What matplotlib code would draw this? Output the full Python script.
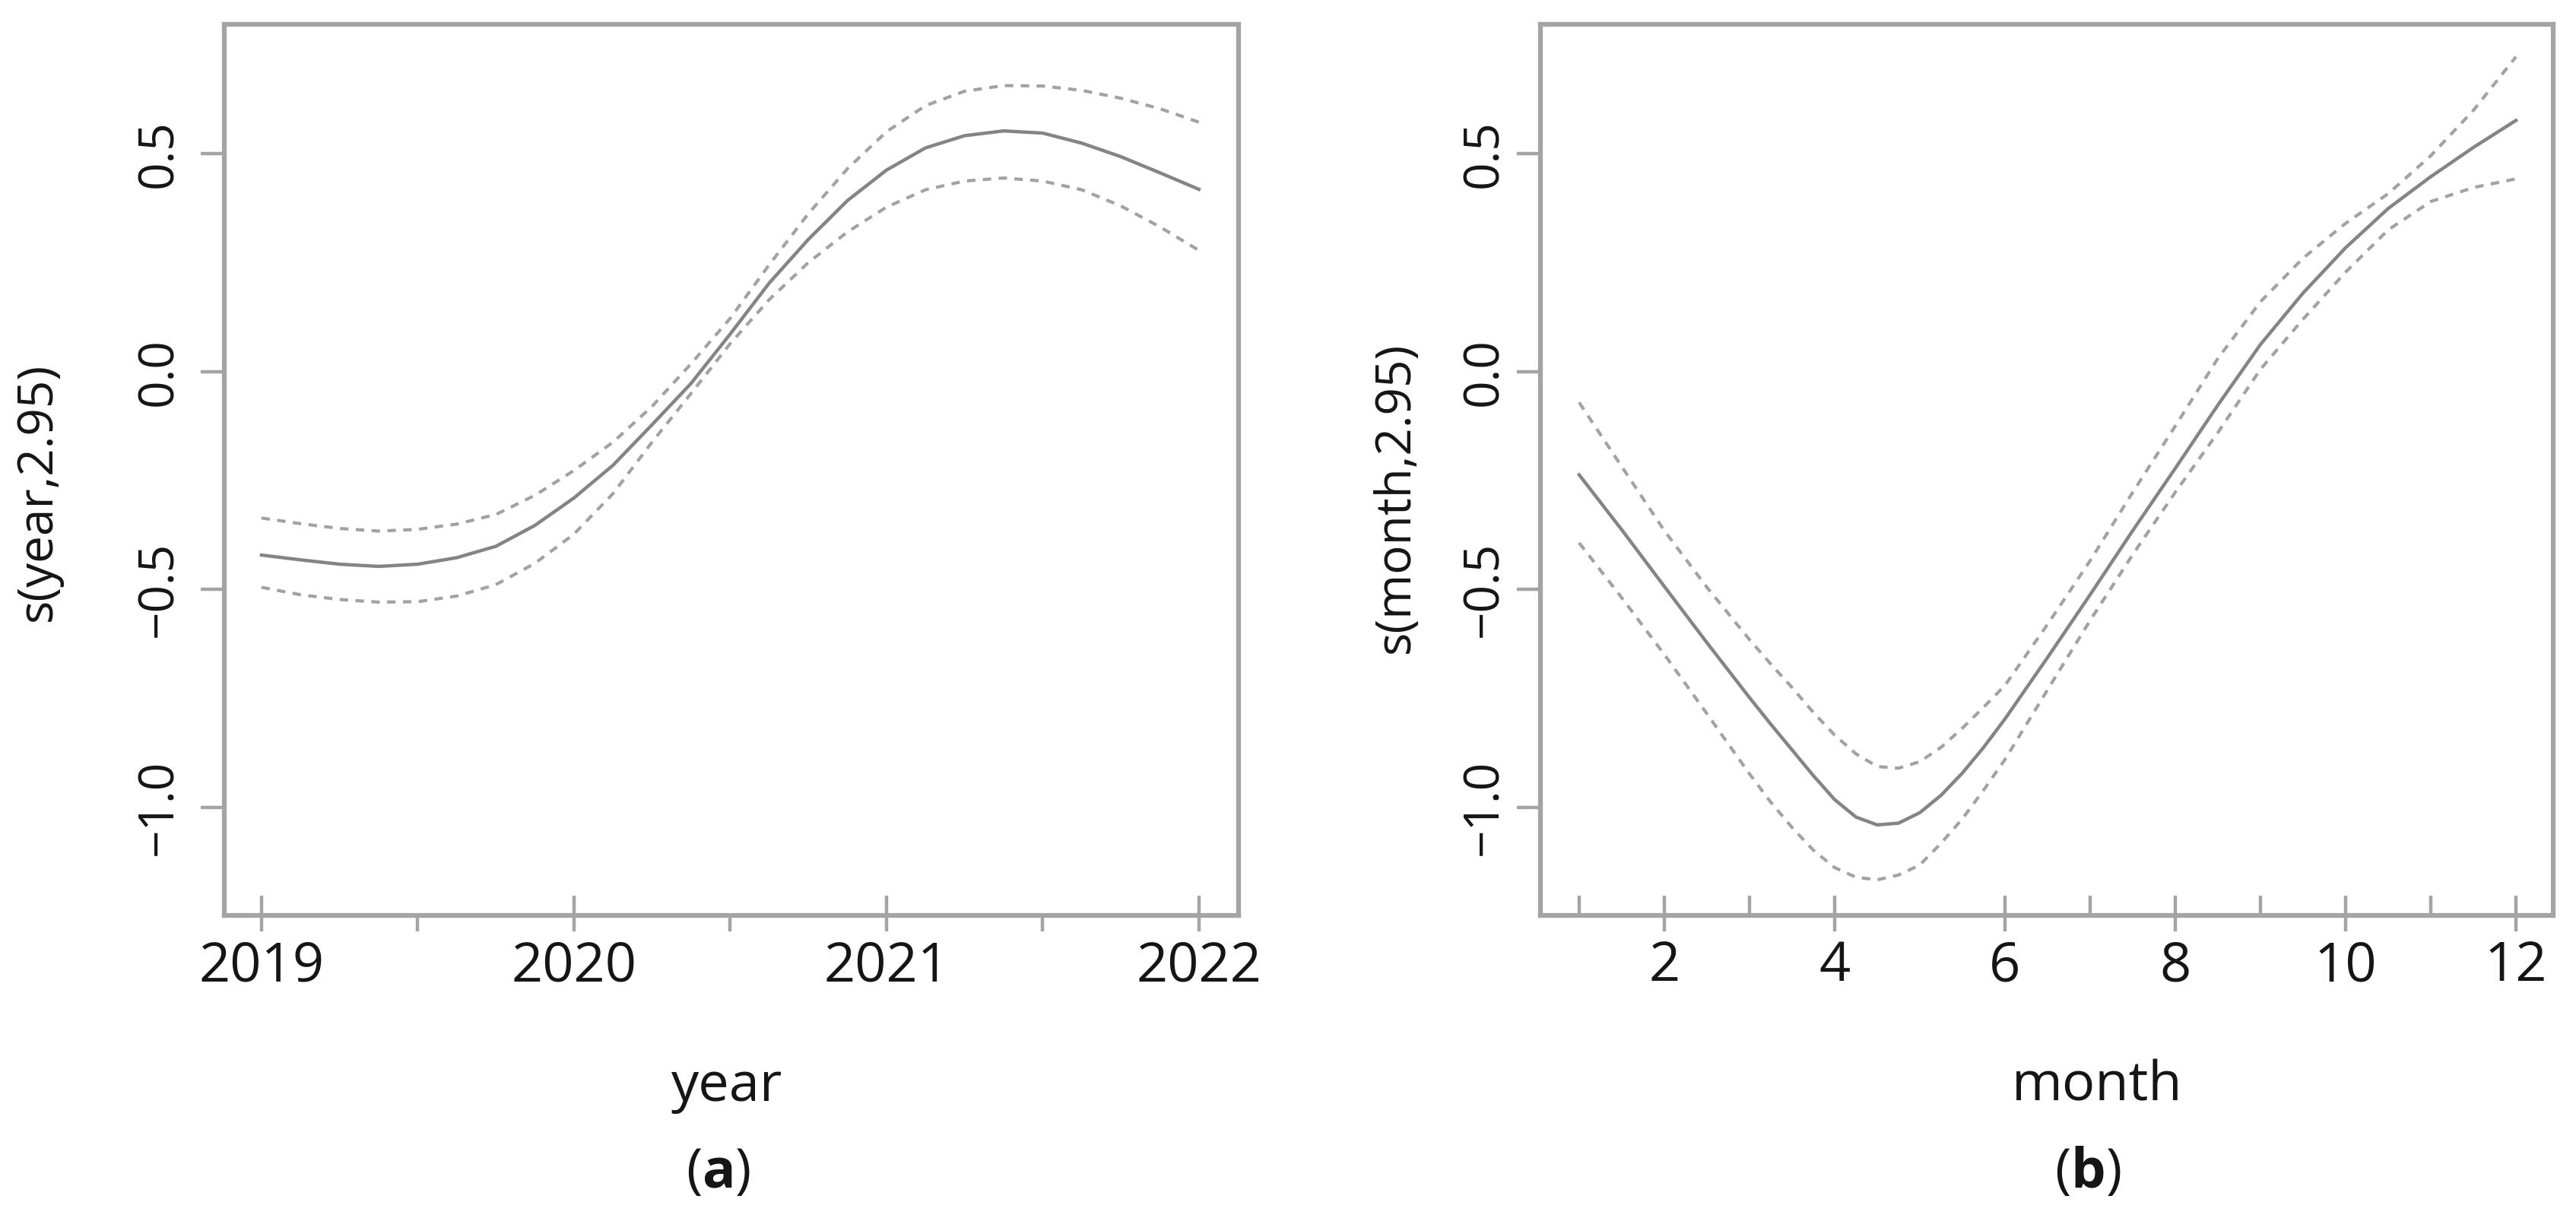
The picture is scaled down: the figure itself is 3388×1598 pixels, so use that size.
import matplotlib
matplotlib.use('Agg')
import matplotlib.pyplot as plt

plt.rcParams['font.family'] = ['Open Sans', 'DejaVu Sans']
plt.rcParams['mathtext.fontset'] = 'custom'
plt.rcParams['mathtext.rm'] = 'Open Sans'
plt.rcParams['mathtext.bf'] = 'Open Sans:bold'
plt.rcParams['lines.scale_dashes'] = False

# panel (a): smooth of year with +-2 se bands
year_x = [2019.0, 2019.125, 2019.25, 2019.375, 2019.5, 2019.625, 2019.75, 2019.875,
          2020.0, 2020.125, 2020.25, 2020.375, 2020.5, 2020.625, 2020.75, 2020.875,
          2021.0, 2021.125, 2021.25, 2021.375, 2021.5, 2021.625, 2021.75, 2021.875,
          2022.0]
year_fit = [-0.421, -0.432, -0.442, -0.447, -0.442, -0.427, -0.401, -0.353,
            -0.290, -0.215, -0.122, -0.027, 0.086, 0.203, 0.303, 0.392,
            0.462, 0.513, 0.541, 0.552, 0.547, 0.524, 0.493, 0.456,
            0.418]
year_upper = [-0.336, -0.349, -0.360, -0.366, -0.362, -0.350, -0.328, -0.284,
              -0.227, -0.162, -0.080, 0.018, 0.122, 0.245, 0.362, 0.465,
              0.550, 0.610, 0.643, 0.656, 0.655, 0.645, 0.627, 0.603,
              0.572]
year_lower = [-0.495, -0.512, -0.523, -0.529, -0.528, -0.515, -0.489, -0.440,
              -0.373, -0.280, -0.162, -0.050, 0.064, 0.165, 0.250, 0.320,
              0.377, 0.417, 0.437, 0.444, 0.437, 0.417, 0.380, 0.332,
              0.278]
year_rug = [2019, 2020, 2021, 2022]
year_ticks = [2019, 2019.5, 2020, 2020.5, 2021, 2021.5, 2022]
year_ticklabels = ['2019', '', '2020', '', '2021', '', '2022']

# panel (b): smooth of month
month_x = [1, 1.5, 2, 2.5, 3, 3.25, 3.5, 3.75, 4, 4.25, 4.5, 4.75, 5, 5.25,
           5.5, 5.75, 6, 6.5, 7, 7.5, 8, 8.5, 9, 9.5, 10, 10.5, 11, 11.5, 12]
month_fit = [-0.237, -0.363, -0.493, -0.622, -0.748, -0.809, -0.868, -0.927,
             -0.982, -1.022, -1.040, -1.036, -1.012, -0.972, -0.921, -0.862,
             -0.797, -0.656, -0.512, -0.365, -0.222, -0.077, 0.062, 0.180,
             0.284, 0.374, 0.447, 0.514, 0.576]
month_upper = [-0.071, -0.218, -0.365, -0.495, -0.615, -0.671, -0.725, -0.782,
               -0.834, -0.877, -0.906, -0.910, -0.895, -0.862, -0.818, -0.770,
               -0.720, -0.580, -0.434, -0.277, -0.125, 0.030, 0.160, 0.260,
               0.340, 0.408, 0.495, 0.599, 0.722]
month_lower = [-0.393, -0.519, -0.649, -0.785, -0.923, -0.988, -1.046, -1.098,
               -1.138, -1.160, -1.166, -1.155, -1.132, -1.082, -1.026, -0.960,
               -0.890, -0.730, -0.571, -0.420, -0.277, -0.140, 0.005, 0.120,
               0.228, 0.325, 0.390, 0.422, 0.442]
month_rug = [1, 2, 3, 4, 6, 7, 8, 9, 10, 11, 12]
month_ticks = [2, 4, 6, 8, 10, 12]
month_ticklabels = ['2', '4', '6', '8', '10', '12']

y_ticks = [-1.0, -0.5, 0.0, 0.5]
y_ticklabels = ['\u22121.0', '\u22120.5', '0.0', '0.5']

BOX = '#a4a4a4'
FIT = '#848484'
BAND = '#a2a2a2'
TXT = '#151515'

fig = plt.figure(figsize=(33.88, 15.98), dpi=100)
ax1 = fig.add_axes([0.08707, 0.24656, 0.39374, 0.73342])
ax2 = fig.add_axes([0.59799, 0.24656, 0.39315, 0.73342])


def draw_panel(ax, x, fit, upper, lower, rug, xticks, xticklabels, xlim, ypad):
    ax.plot(x, fit, color=FIT, lw=3.2, solid_joinstyle='round')
    ax.plot(x, upper, color=BAND, lw=3.0, ls=(0, (8, 7)))
    ax.plot(x, lower, color=BAND, lw=3.0, ls=(0, (8, 7)))
    # rug of observed values along the bottom
    ax.vlines(rug, 0, 26 / 1172, transform=ax.get_xaxis_transform(),
              color=BOX, lw=3.2)
    ax.set_xlim(*xlim)
    ax.set_ylim(-1.2477, 0.7965)
    for s in ax.spines.values():
        s.set_color(BOX)
        s.set_linewidth(4.5)
    ax.set_xticks(xticks)
    ax.set_xticklabels(xticklabels)
    ax.set_yticks(y_ticks)
    ax.set_yticklabels(y_ticklabels, rotation=90, ha='center', va='center')
    ax.tick_params(axis='both', direction='out', color=BOX, width=3.2,
                   labelcolor=TXT)
    ax.tick_params(axis='x', length=15, pad=8, labelsize=52)
    ax.tick_params(axis='y', length=22, pad=ypad, labelsize=46)


draw_panel(ax1, year_x, year_fit, year_upper, year_lower, year_rug,
           year_ticks, year_ticklabels, (2018.881, 2022.127), 40)
draw_panel(ax2, month_x, month_fit, month_upper, month_lower, month_rug,
           month_ticks, month_ticklabels, (0.545, 12.4375), 31)

W, H = 3388.0, 1598.0
fig.text(956 / W, 1 - 1448 / H, 'year', ha='center', va='baseline',
         fontsize=52, color=TXT)
fig.text(2758 / W, 1 - 1448 / H, 'month', ha='center', va='baseline',
         fontsize=52, color=TXT)
fig.text(945 / W, 1 - 1562 / H, r'($\mathbf{a}$)', ha='center', va='baseline',
         fontsize=52, color=TXT)
fig.text(2746 / W, 1 - 1562 / H, r'($\mathbf{b}$)', ha='center', va='baseline',
         fontsize=52, color=TXT)
fig.text(50 / W, 1 - 647 / H, 's(year,2.95)', rotation=90, ha='center',
         va='center', fontsize=46, color=TXT)
fig.text(1836 / W, 1 - 654 / H, 's(month,2.95)', rotation=90, ha='center',
         va='center', fontsize=46, color=TXT)

fig.savefig('out.png', dpi=100)
